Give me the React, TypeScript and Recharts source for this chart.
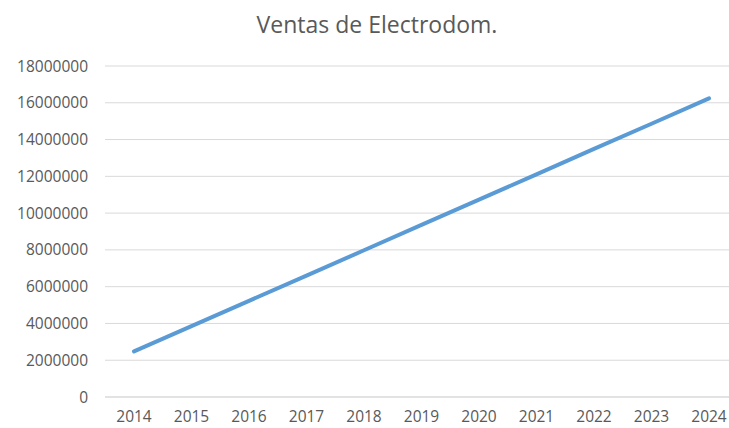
import { LineChart, Line, XAxis, YAxis, CartesianGrid } from 'recharts'

// Ventas anuales
const YEARS = ['2014', '2015', '2016', '2017', '2018', '2019', '2020', '2021', '2022', '2023', '2024']
const SALES = [
  2480000, 3850000, 5230000, 6600000, 7980000, 9360000, 10730000, 12110000, 13490000, 14860000,
  16240000,
]
const Y_TICKS = [0, 2000000, 4000000, 6000000, 8000000, 10000000, 12000000, 14000000, 16000000, 18000000]

const TITLE = 'Ventas de Electrodom.'

const data = YEARS.map((year, i) => ({ year, sales: SALES[i] }))

const TEXT_COLOR = '#595959'
const GRID_COLOR = '#d9d9d9'
const FONT = '"Open Sans", "Liberation Sans", sans-serif'

export default function App() {
  return (
    <div
      style={{
        position: 'absolute',
        left: 0,
        top: 0,
        width: 729,
        height: 428,
        overflow: 'hidden',
        background: '#fff',
        fontFamily: FONT,
      }}
    >
      <div
        style={{
          position: 'absolute',
          left: 0,
          top: 8,
          width: 754,
          textAlign: 'center',
          fontSize: 23,
          color: TEXT_COLOR,
        }}
      >
        {TITLE}
      </div>
      <LineChart
        width={754}
        height={428}
        data={data}
        margin={{ top: 66, right: 16, bottom: 0, left: 0 }}
      >
        <CartesianGrid vertical={false} stroke={GRID_COLOR} strokeWidth={1} />
        <XAxis
          dataKey="year"
          height={31}
          padding={{ left: 29, right: 29 }}
          axisLine={{ stroke: GRID_COLOR }}
          tickLine={false}
          tickMargin={8}
          tick={{ fill: TEXT_COLOR, fontSize: 15.5, fontFamily: FONT }}
          interval={0}
        />
        <YAxis
          width={105}
          domain={[0, 18000000]}
          ticks={Y_TICKS}
          axisLine={false}
          tickLine={false}
          tickMargin={11}
          tick={{ fill: TEXT_COLOR, fontSize: 15.5, fontFamily: FONT }}
          interval={0}
        />
        <Line
          type="linear"
          dataKey="sales"
          stroke="#5b9bd5"
          strokeWidth={4}
          strokeLinecap="round"
          dot={false}
          activeDot={false}
          isAnimationActive={false}
        />
      </LineChart>
    </div>
  )
}
